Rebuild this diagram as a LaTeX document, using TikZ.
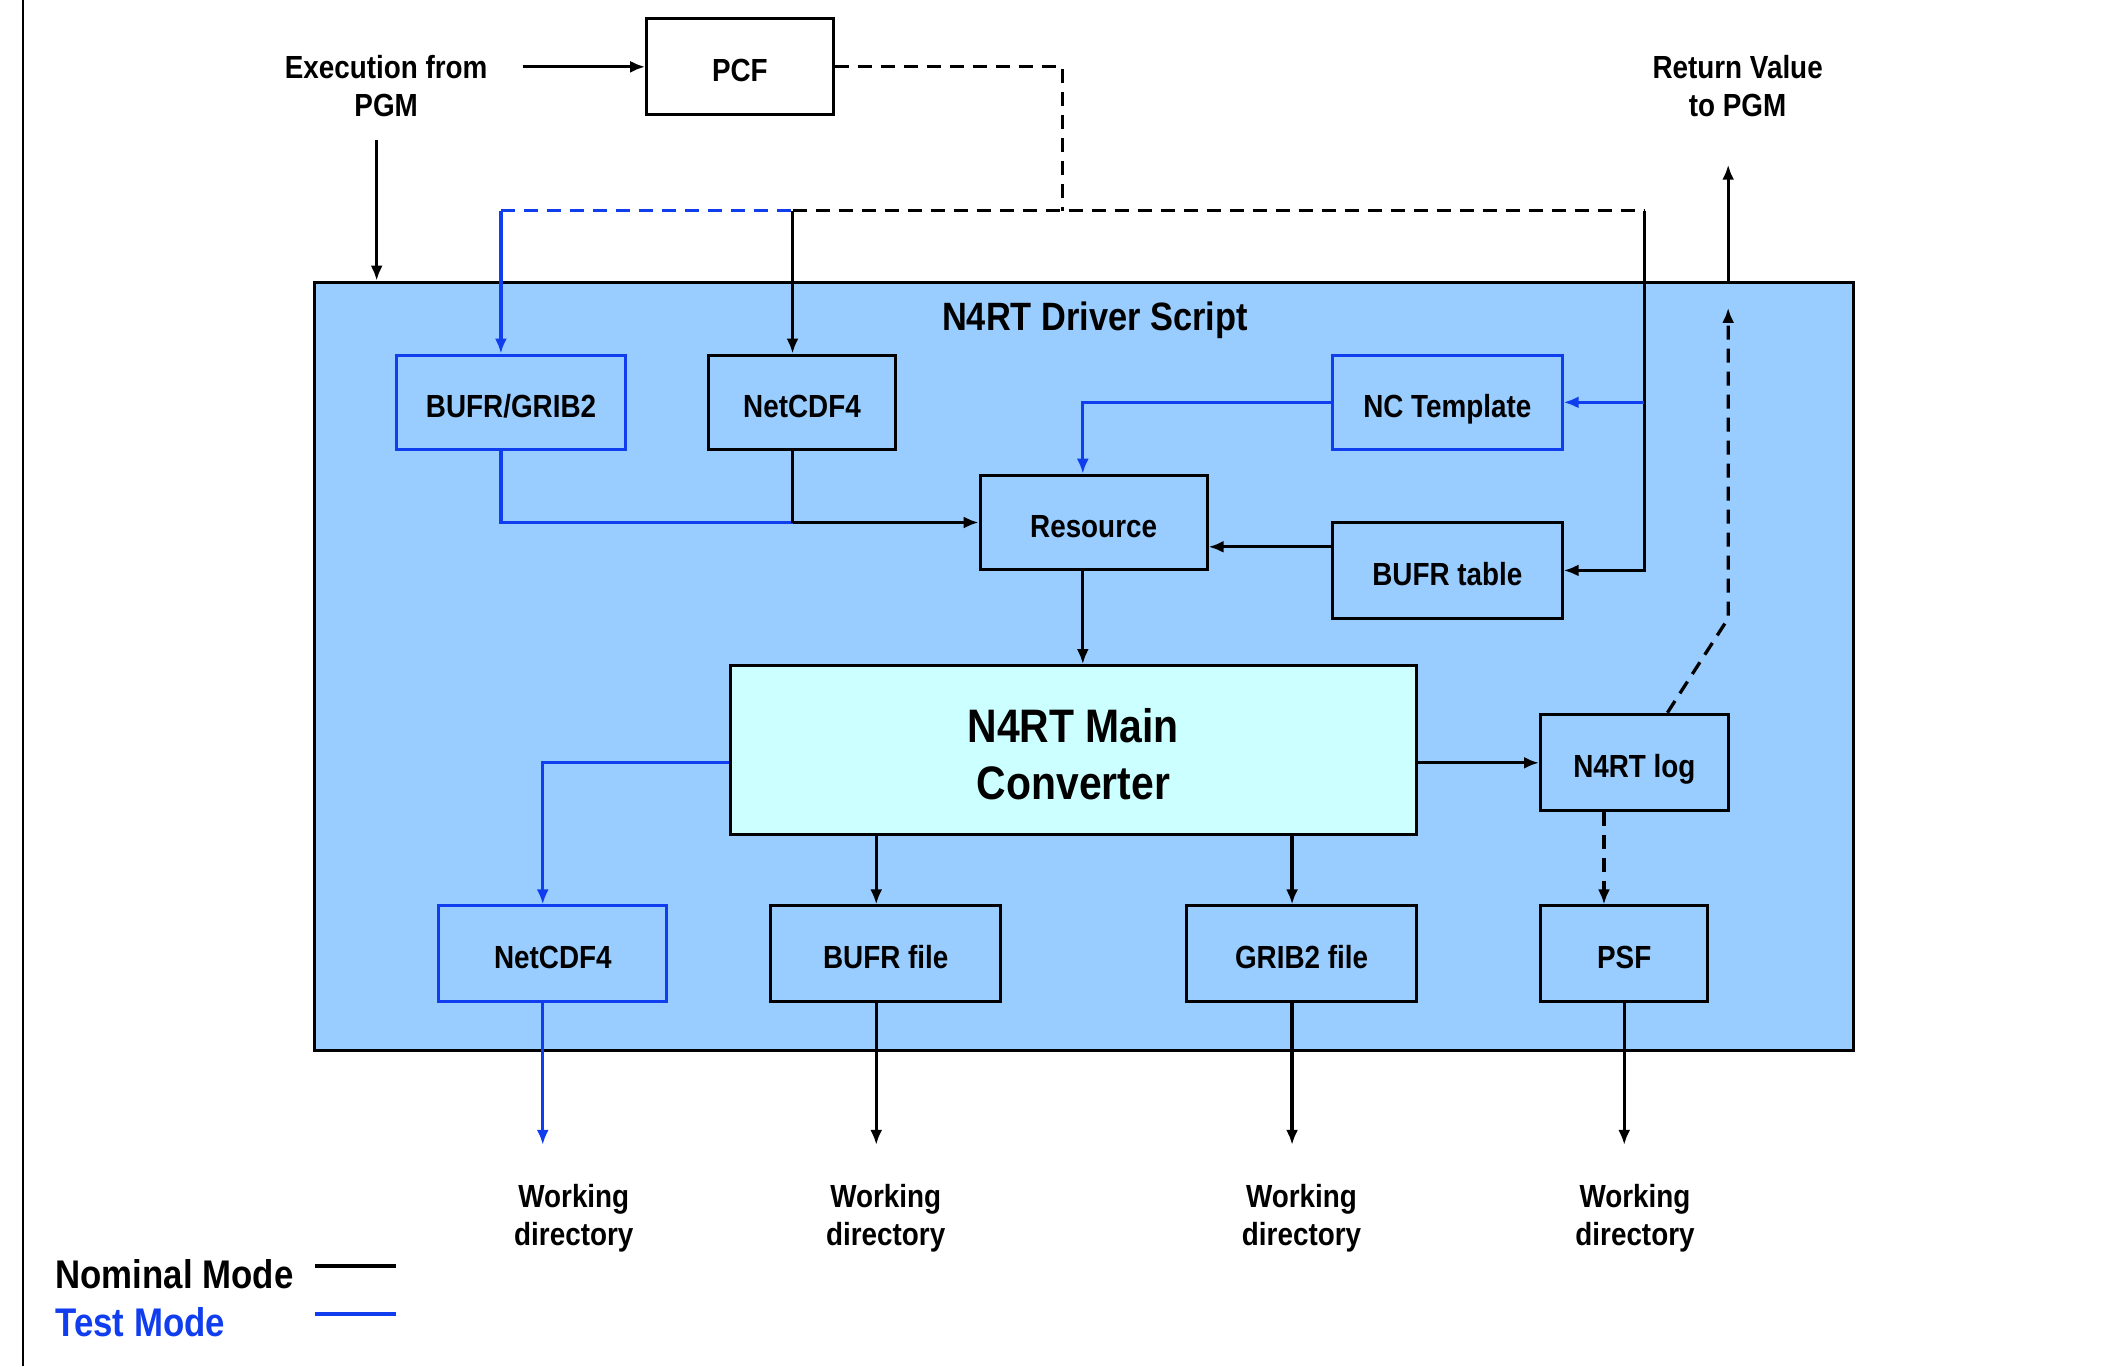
\documentclass[tikz,border=0pt]{standalone}
\usepackage{fontspec}
\setmainfont{Liberation Sans}[FakeStretch=0.87]
\usetikzlibrary{arrows.meta}
\definecolor{drvfill}{HTML}{99CCFF}
\definecolor{mainfill}{HTML}{CCFFFF}
\definecolor{testblue}{RGB}{16,62,238}

\begin{document}
\begin{tikzpicture}[x=1.35pt,y=-1.35pt,
  lbl/.style={font=\fontsize{32}{38}\selectfont\bfseries, align=center, inner sep=0pt},
  stepbox/.style={lbl, draw=black, line width=3pt, minimum height=94.5pt,
                  text height=30pt, text depth=0pt},
  testbox/.style={stepbox, draw=testblue},
  conn/.style={line width=3.3pt},
  arr/.style={conn, -{Latex[length=15pt,width=12pt]}},
  dsh/.style={dash pattern=on 14pt off 9pt},
  tst/.style={draw=testblue, color=testblue}
]
\useasboundingbox (0,0) rectangle (1568,1012);

% page margin rule
\draw[line width=2.5pt] (17,0) -- (17,1012);

% driver script frame
\node[draw=black, line width=3pt, fill=drvfill, inner sep=0pt,
      minimum width=1539pt, minimum height=768.15pt] (driver) at (803,493.5) {};
\node[font=\fontsize{39.5}{46}\selectfont\bfseries, inner sep=0pt] (title) at (811,237) {N4RT Driver Script};

% outside labels
\node[lbl] (exec) at (286,64) {Execution from\\PGM};
\node[lbl] (ret) at (1287,64) {Return Value\\to PGM};
\node[stepbox, minimum width=186.3pt, minimum height=95.85pt] (pcf) at (548,49.5) {PCF};

% inputs
\node[testbox, minimum width=228.15pt] (bg) at (378.5,298) {BUFR/GRIB2};
\node[stepbox, minimum width=186.3pt] (nc1) at (594,298) {NetCDF4};
\node[testbox, minimum width=229.5pt] (nct) at (1072,298) {NC Template};
\node[stepbox, minimum width=226.8pt] (res) at (810,387) {Resource};
\node[stepbox, minimum width=229.5pt, minimum height=95.85pt] (bt) at (1072,422.5) {BUFR table};

% converter
\node[draw=black, line width=3pt, fill=mainfill, inner sep=0pt, align=center,
      minimum width=685.8pt, minimum height=168.75pt, text height=98pt, text depth=0pt,
      font=\fontsize{47}{57}\selectfont\bfseries] (main) at (795,555.5) {N4RT Main\\Converter};
\node[stepbox, minimum width=187.65pt, minimum height=95.85pt] (log) at (1210.5,564.5) {N4RT log};

% outputs
\node[testbox, minimum width=228.15pt, minimum height=95.85pt] (nc2) at (409.5,706.5) {NetCDF4};
\node[stepbox, minimum width=229.5pt, minimum height=95.85pt] (bf) at (656,706.5) {BUFR file};
\node[stepbox, minimum width=229.5pt, minimum height=95.85pt] (gf) at (964,706.5) {GRIB2 file};
\node[stepbox, minimum width=167.4pt, minimum height=95.85pt] (psf) at (1203,706.5) {PSF};

% working directory labels
\node[lbl] (wd1) at (425,902) {Working\\directory};
\node[lbl] (wd2) at (656,902) {Working\\directory};
\node[lbl] (wd3) at (964,902) {Working\\directory};
\node[lbl] (wd4) at (1211,902) {Working\\directory};

% routing points
\coordinate (execr) at (387,49.5);
\coordinate (execd) at (279,104);
\coordinate (bus) at (787,156);
\coordinate (busL) at (371,156);
\coordinate (busM) at (587,156);
\coordinate (busR) at (1218,156);
\coordinate (join) at (587,387);
\coordinate (retTop) at (1280,122);
\coordinate (retIn) at (1280,228);
\coordinate (bend) at (1280,458);
\coordinate (o1) at (402,848);
\coordinate (o2) at (649,848);
\coordinate (o3) at (957,848);
\coordinate (o4) at (1203,848);

% execution flow
\draw[arr] (execr) -- (execr -| pcf.west);
\draw[arr] (execd) -- (execd |- driver.north);
\draw[conn, dsh] (pcf.east) -| (bus);
\draw[conn, dsh] (busM) -- (busR);
\draw[conn, dsh, tst] (busL) -- (busM);
\draw[arr] (busM) -- (busM |- nc1.north);
\draw[arr, tst] (busL) -- (busL |- bg.north);
\draw[arr] (busR) |- (bt.east);
\draw[arr, tst] (busR |- nct.east) -- (nct.east);

% inputs to resource
\draw[conn, tst] (busL |- bg.south) |- (join);
\draw[conn] (busM |- nc1.south) -- (join);
\draw[arr] (join) -- (res.west);
\draw[arr, tst] (nct.west) -| (res.north -| 802,0);
\draw[arr] (bt.west |- 0,405) -- (res.east |- 0,405);
\draw[arr] (res.south -| 802,0) -- (main.north -| 802,0);

% converter outputs
\draw[arr, tst] (main.west |- 0,565) -| (nc2.north -| o1);
\draw[arr] (main.south -| o2) -- (bf.north -| o2);
\draw[arr] (main.south -| o3) -- (gf.north -| o3);
\draw[arr] (main.east |- 0,565) -- (log.west |- 0,565);
\draw[arr, dsh] (log.south -| 1188,0) -- (psf.north -| 1188,0);
\draw[arr, dsh] (log.north -| 1235,0) -- (bend) -- (retIn);
\draw[arr] (retTop |- driver.north) -- (retTop);

% to working directories
\draw[arr, tst] (nc2.south -| o1) -- (o1);
\draw[arr] (bf.south -| o2) -- (o2);
\draw[arr] (gf.south -| o3) -- (o3);
\draw[arr] (psf.south -| o4) -- (o4);

% legend
\node[font=\fontsize{40}{46}\selectfont\bfseries, anchor=base west, inner sep=0pt] (nom) at (41,954) {Nominal Mode};
\node[font=\fontsize{40}{46}\selectfont\bfseries, anchor=base west, inner sep=0pt, text=testblue] (tm) at (41,990) {Test Mode};
\coordinate (l1a) at (233,938);
\coordinate (l1b) at (293,938);
\coordinate (l2a) at (233,973);
\coordinate (l2b) at (293,973);
\draw[line width=4pt] (l1a) -- (l1b);
\draw[line width=4pt, testblue] (l2a) -- (l2b);
\end{tikzpicture}
\end{document}
